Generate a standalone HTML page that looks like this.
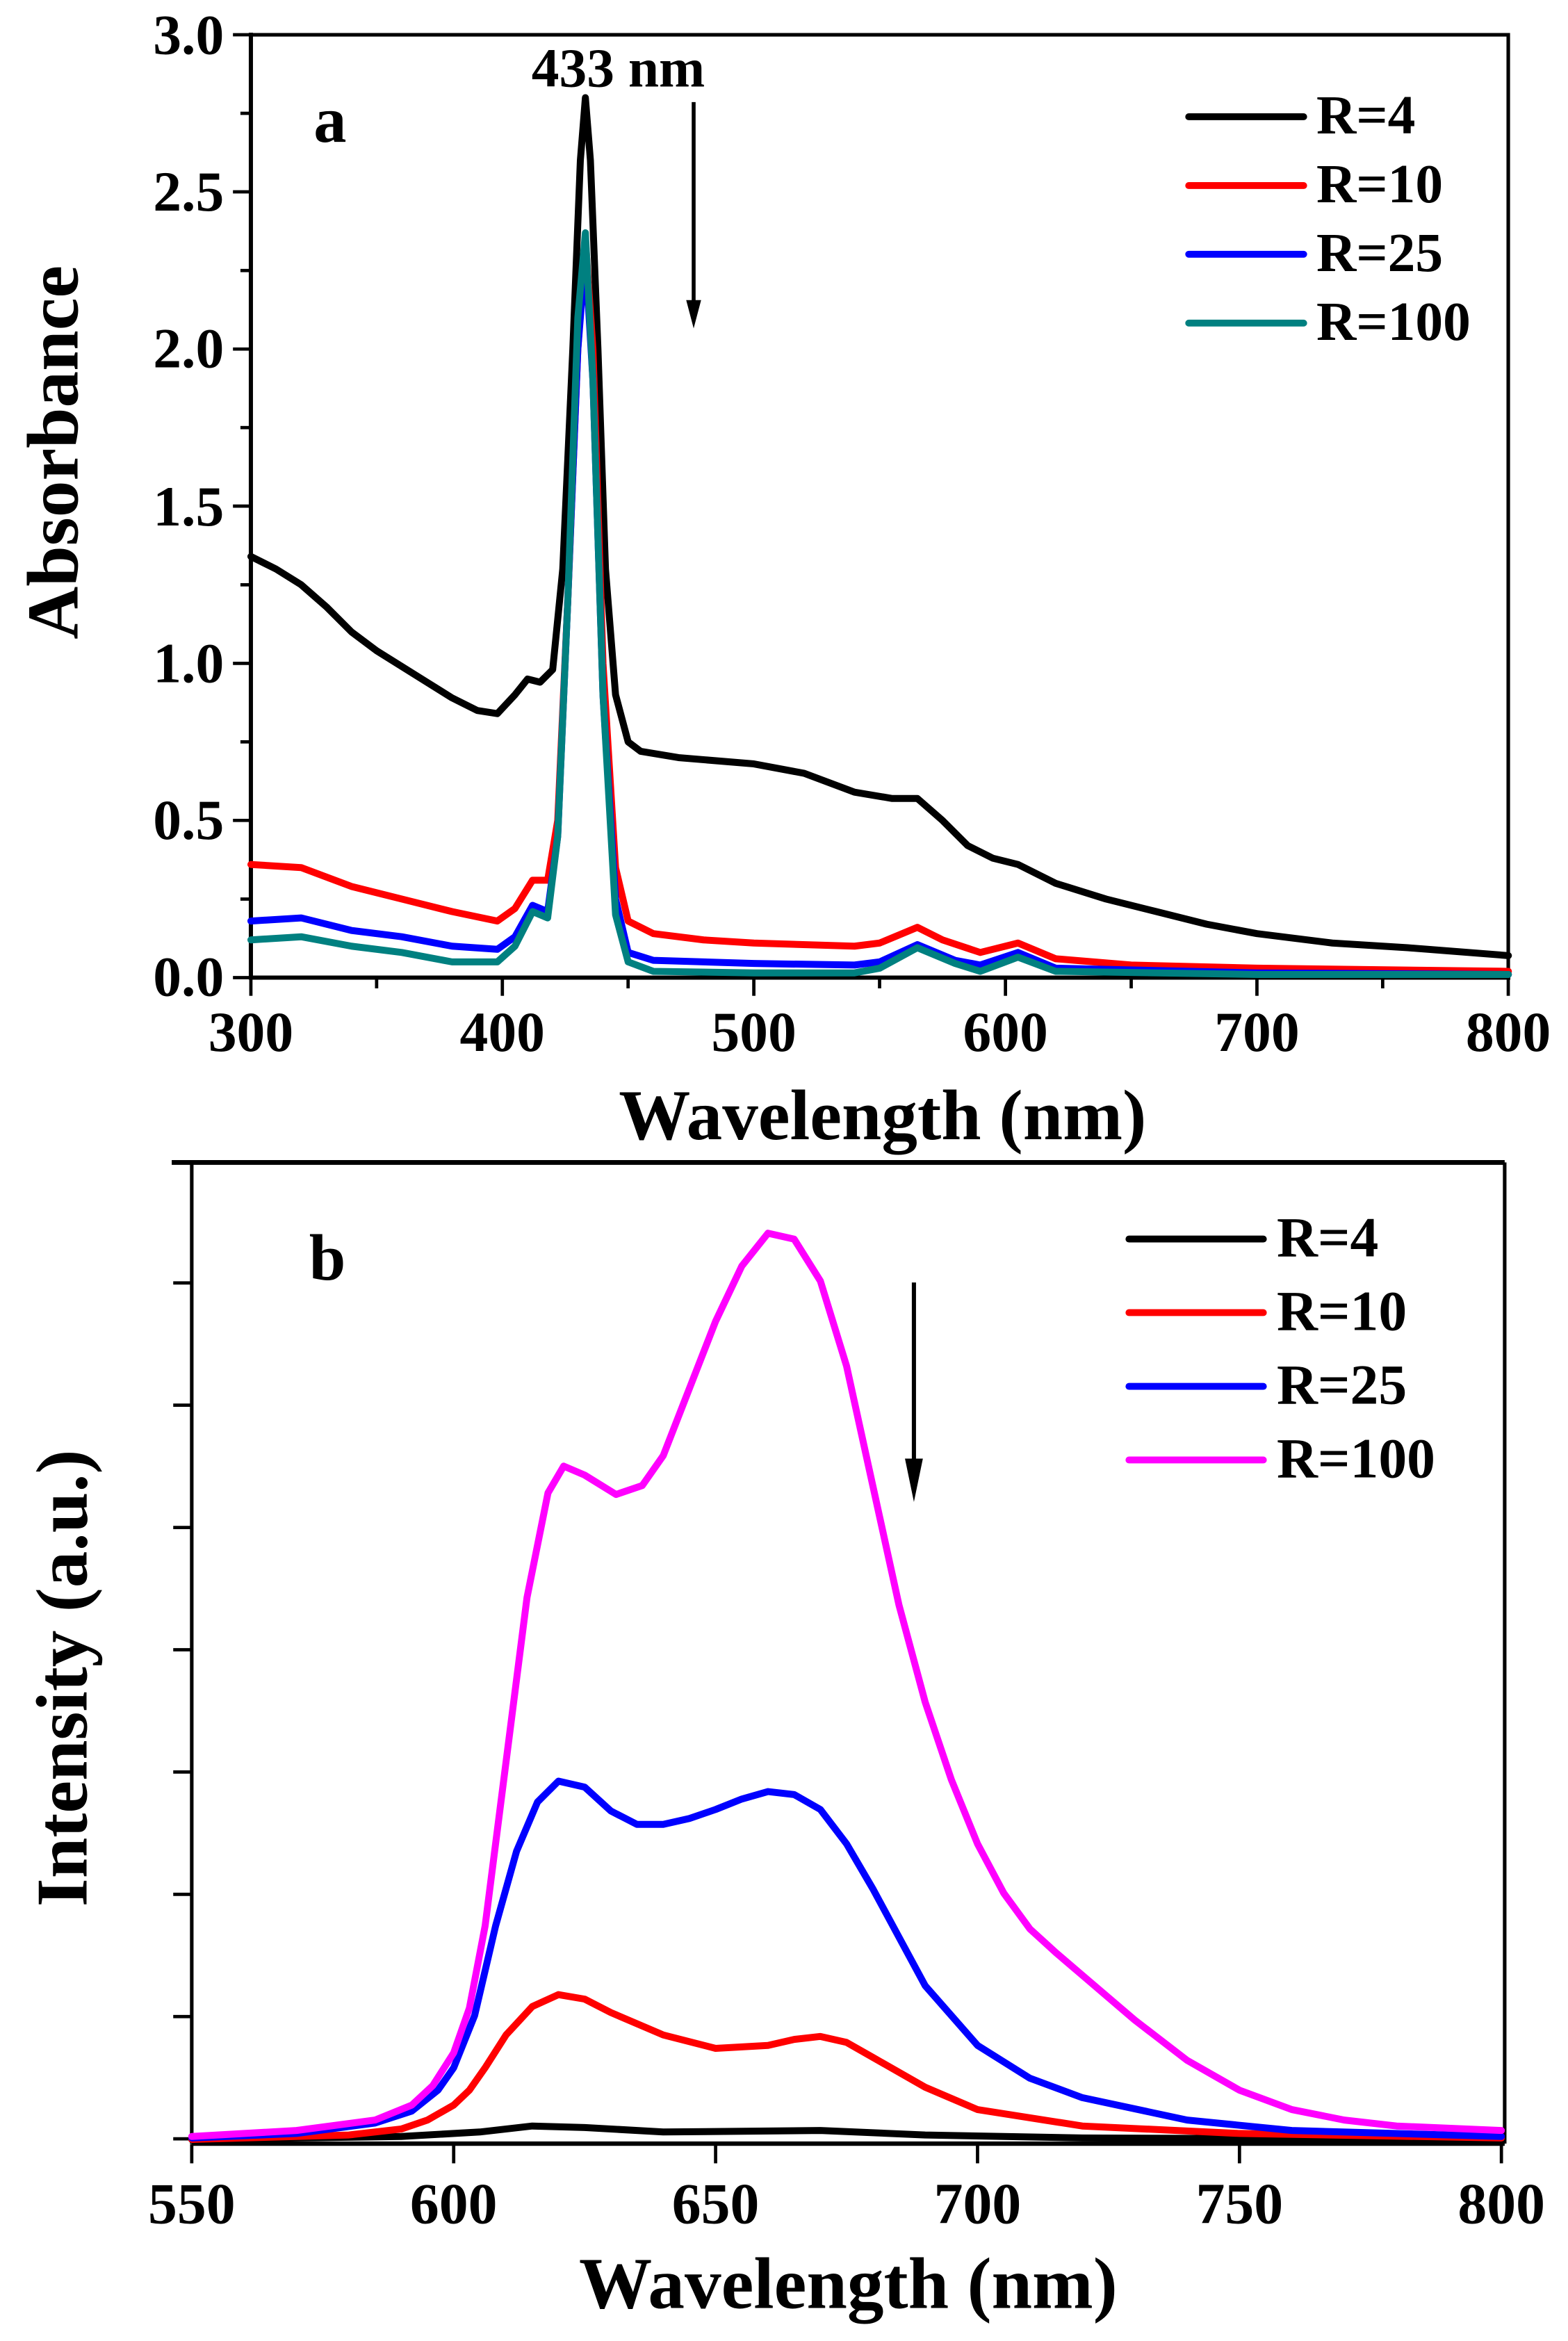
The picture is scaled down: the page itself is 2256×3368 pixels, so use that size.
<!DOCTYPE html>
<html><head><meta charset="utf-8"><style>
html,body{margin:0;padding:0;background:#fff}
svg{display:block}
text{font-family:"Liberation Serif",serif;font-weight:bold;fill:#000}
.c{fill:none;stroke-width:10;stroke-linejoin:round;stroke-linecap:round;vector-effect:non-scaling-stroke}
</style></head><body>
<svg width="2256" height="3368" viewBox="0 0 1050 1568" preserveAspectRatio="none" xmlns="http://www.w3.org/2000/svg">
<!-- Panel a -->
<g stroke="#000" stroke-width="2.6" fill="none" stroke-linecap="square">
<rect x="168" y="23.3" width="842" height="631.5" stroke-width="2.4"/>
<line x1="168" y1="654.8" x2="1010" y2="654.8" stroke-width="2.8"/>
<line x1="168" y1="23.3" x2="168" y2="654.8" stroke-width="2.8"/>
</g>
<g stroke="#000" stroke-width="2.2">
<line x1="168" y1="655" x2="168" y2="667"/><line x1="336.4" y1="655" x2="336.4" y2="667"/><line x1="504.8" y1="655" x2="504.8" y2="667"/><line x1="673.3" y1="655" x2="673.3" y2="667"/><line x1="841.7" y1="655" x2="841.7" y2="667"/><line x1="1010" y1="655" x2="1010" y2="667"/>
<line x1="252.2" y1="655" x2="252.2" y2="662"/><line x1="420.6" y1="655" x2="420.6" y2="662"/><line x1="589" y1="655" x2="589" y2="662"/><line x1="757.5" y1="655" x2="757.5" y2="662"/><line x1="925.9" y1="655" x2="925.9" y2="662"/>
<line x1="156" y1="654.8" x2="168" y2="654.8"/><line x1="156" y1="549.5" x2="168" y2="549.5"/><line x1="156" y1="444.3" x2="168" y2="444.3"/><line x1="156" y1="339" x2="168" y2="339"/><line x1="156" y1="233.8" x2="168" y2="233.8"/><line x1="156" y1="128.5" x2="168" y2="128.5"/><line x1="156" y1="23.3" x2="168" y2="23.3"/>
<line x1="161" y1="602.2" x2="168" y2="602.2"/><line x1="161" y1="496.9" x2="168" y2="496.9"/><line x1="161" y1="391.7" x2="168" y2="391.7"/><line x1="161" y1="286.4" x2="168" y2="286.4"/><line x1="161" y1="181.2" x2="168" y2="181.2"/><line x1="161" y1="75.9" x2="168" y2="75.9"/>
</g>
<g font-size="38" text-anchor="middle">
<text x="168" y="704">300</text><text x="336.4" y="704">400</text><text x="504.8" y="704">500</text><text x="673.3" y="704">600</text><text x="841.7" y="704">700</text><text x="1010" y="704">800</text>
</g>
<g font-size="38" text-anchor="end">
<text x="150" y="667">0.0</text><text x="150" y="562">0.5</text><text x="150" y="457">1.0</text><text x="150" y="352">1.5</text><text x="150" y="246">2.0</text><text x="150" y="141">2.5</text><text x="150" y="36">3.0</text>
</g>
<text x="591" y="763" font-size="48" text-anchor="middle">Wavelength (nm)</text>
<text transform="translate(52,303) rotate(-90)" font-size="49" text-anchor="middle">Absorbance</text>
<text x="210" y="95" font-size="44">a</text>
<text x="414" y="58" font-size="37" text-anchor="middle">433 nm</text>
<line x1="464.5" y1="68.4" x2="464.5" y2="205" stroke="#000" stroke-width="2.6"/>
<polygon points="459.5,201 469.5,201 464.5,220" fill="#000"/>
<g transform="translate(168,654.8) scale(1.6842,-210.5) translate(-300,0)">
<polyline class="c" stroke="#000" points="300,1.34 310,1.30 320,1.25 330,1.18 340,1.10 350,1.04 360,0.99 370,0.94 380,0.89 390,0.85 398,0.84 405,0.90 410,0.95 415,0.94 420,0.98 424,1.3 428,2.0 431,2.6 433,2.8 435,2.6 438,2.0 441,1.3 445,0.9 450,0.75 455,0.72 470,0.70 500,0.68 520,0.65 540,0.59 555,0.57 565,0.57 575,0.50 585,0.42 595,0.38 605,0.36 620,0.30 640,0.25 660,0.21 680,0.17 700,0.14 730,0.11 760,0.095 800,0.07"/>
<polyline class="c" stroke="#ff0000" points="300,0.36 320,0.35 340,0.29 360,0.25 380,0.21 398,0.18 405,0.22 412,0.31 418,0.31 422,0.5 426,1.2 430,2.0 433,2.35 436,2.0 440,1.0 445,0.35 450,0.18 460,0.14 480,0.12 500,0.11 540,0.10 550,0.11 565,0.16 575,0.12 590,0.08 605,0.11 620,0.06 650,0.04 700,0.03 800,0.02"/>
<polyline class="c" stroke="#0000ff" points="300,0.18 320,0.19 340,0.15 360,0.13 380,0.10 398,0.09 405,0.13 412,0.23 418,0.21 422,0.45 426,1.2 430,2.0 433,2.3 436,1.9 440,0.9 445,0.25 450,0.08 460,0.055 500,0.045 540,0.04 550,0.05 565,0.105 580,0.055 590,0.04 605,0.08 620,0.03 700,0.015 800,0.01"/>
<polyline class="c" stroke="#008080" points="300,0.12 320,0.13 340,0.10 360,0.08 380,0.05 398,0.05 405,0.10 412,0.21 418,0.19 422,0.45 426,1.2 430,2.1 433,2.37 436,1.9 440,0.9 445,0.2 450,0.05 460,0.02 500,0.015 540,0.015 550,0.03 565,0.095 580,0.045 590,0.02 605,0.065 620,0.02 700,0.01 800,0.01"/>
</g>
<g stroke-width="4.6" stroke-linecap="round">
<line x1="796" y1="78.2" x2="873" y2="78.2" stroke="#000"/>
<line x1="796" y1="124.3" x2="873" y2="124.3" stroke="#ff0000"/>
<line x1="796" y1="170.3" x2="873" y2="170.3" stroke="#0000ff"/>
<line x1="796" y1="216.4" x2="873" y2="216.4" stroke="#008080"/>
</g>
<g font-size="37">
<text x="881.5" y="89.4">R=4</text><text x="881.5" y="135.5">R=10</text><text x="881.5" y="181.5">R=25</text><text x="881.5" y="227.6">R=100</text>
</g>

<!-- Panel b -->
<line x1="115" y1="778.6" x2="1007.6" y2="778.6" stroke="#000" stroke-width="3.2"/>
<line x1="1007.6" y1="778.6" x2="1007.6" y2="1435.8" stroke="#000" stroke-width="2.4"/>
<line x1="128.4" y1="778.6" x2="128.4" y2="1435.8" stroke="#000" stroke-width="2.4"/>
<line x1="128.4" y1="1435.8" x2="1007.6" y2="1435.8" stroke="#000" stroke-width="3"/>
<g stroke="#000" stroke-width="2.2">
<line x1="128.4" y1="1436" x2="128.4" y2="1449"/><line x1="303.8" y1="1436" x2="303.8" y2="1449"/><line x1="479.2" y1="1436" x2="479.2" y2="1449"/><line x1="654.6" y1="1436" x2="654.6" y2="1449"/><line x1="830" y1="1436" x2="830" y2="1449"/><line x1="1005.4" y1="1436" x2="1005.4" y2="1449"/>
<line x1="116" y1="1432.6" x2="128.4" y2="1432.6"/><line x1="116" y1="1350.7" x2="128.4" y2="1350.7"/><line x1="116" y1="1268.8" x2="128.4" y2="1268.8"/><line x1="116" y1="1186.9" x2="128.4" y2="1186.9"/><line x1="116" y1="1105" x2="128.4" y2="1105"/><line x1="116" y1="1023.1" x2="128.4" y2="1023.1"/><line x1="116" y1="941.2" x2="128.4" y2="941.2"/><line x1="116" y1="859.3" x2="128.4" y2="859.3"/>
</g>
<g font-size="39" text-anchor="middle">
<text x="128.4" y="1489">550</text><text x="303.8" y="1489">600</text><text x="479.2" y="1489">650</text><text x="654.6" y="1489">700</text><text x="830" y="1489">750</text><text x="1005.4" y="1489">800</text>
</g>
<text x="568" y="1546" font-size="49" text-anchor="middle">Wavelength (nm)</text>
<text transform="translate(58,1124) rotate(-90)" font-size="49" text-anchor="middle">Intensity (a.u.)</text>
<text x="207" y="857" font-size="44">b</text>
<line x1="612" y1="859" x2="612" y2="985" stroke="#000" stroke-width="2.8"/>
<polygon points="606,977 618,977 612,1006" fill="#000"/>
<g transform="translate(128.4,0) scale(3.508,1) translate(-550,0)">
<polyline class="c" stroke="#000" points="550,1433 590,1431 605,1428 615,1424 625,1425 640,1428 670,1427 690,1430 720,1432 800,1433"/>
<polyline class="c" stroke="#ff0000" points="550,1433 580,1430 590,1426 595,1420 600,1410 603,1400 606,1385 610,1363 615,1344 620,1336 625,1339 630,1348 640,1363 650,1372 660,1370 665,1366 670,1364 675,1368 680,1378 690,1398 700,1413 720,1424 750,1429 800,1432"/>
<polyline class="c" stroke="#0000ff" points="550,1432 570,1429 585,1422 592,1414 597,1400 600,1385 604,1350 608,1290 612,1240 616,1207 620,1193 625,1197 630,1213 635,1222 640,1222 645,1218 650,1212 655,1205 660,1200 665,1202 670,1212 675,1235 680,1265 690,1330 700,1370 710,1392 720,1405 740,1420 760,1427 800,1431"/>
<polyline class="c" stroke="#ff00ff" points="550,1431 570,1427 585,1420 592,1410 596,1397 600,1375 603,1345 606,1290 610,1180 614,1070 618,1000 621,982 625,988 631,1001 636,995 640,975 645,930 650,885 655,848 660,826 665,830 670,858 675,915 680,995 685,1075 690,1140 695,1192 700,1235 705,1268 710,1292 715,1308 720,1323 730,1353 740,1380 750,1400 760,1413 770,1420 780,1424 800,1427"/>
</g>
<g stroke-width="4.6" stroke-linecap="round">
<line x1="756" y1="829.9" x2="846" y2="829.9" stroke="#000"/>
<line x1="756" y1="879.2" x2="846" y2="879.2" stroke="#ff0000"/>
<line x1="756" y1="928.6" x2="846" y2="928.6" stroke="#0000ff"/>
<line x1="756" y1="977.9" x2="846" y2="977.9" stroke="#ff00ff"/>
</g>
<g font-size="38">
<text x="855" y="841.5">R=4</text><text x="855" y="890.8">R=10</text><text x="855" y="940.2">R=25</text><text x="855" y="989.5">R=100</text>
</g>
</svg>
</body></html>
